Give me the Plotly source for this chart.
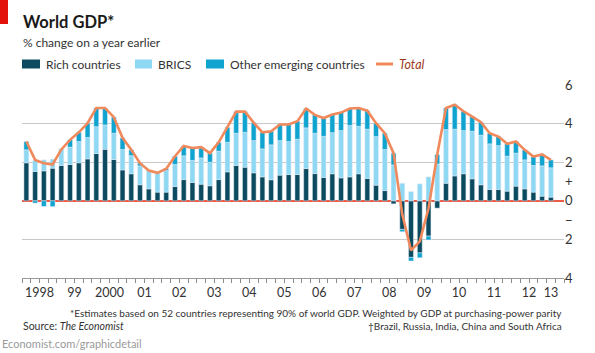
import plotly.graph_objects as go

# ---------------- data (quarterly, 1998Q1 - 2013Q1) ----------------
quarters = [f"{y}Q{q}" for y in range(1998, 2014) for q in range(1, 5)][:61]

rich = [1.97, 1.52, 1.55, 1.69, 1.83, 1.88, 1.97, 2.17, 2.45, 2.67, 2.14, 1.60,
        1.40, 0.83, 0.62, 0.45, 0.45, 0.74, 1.10, 0.95, 0.86, 0.78, 1.10, 1.50,
        1.83, 1.74, 1.45, 1.24, 1.09, 1.33, 1.36, 1.36, 1.67, 1.41, 1.21, 1.40,
        1.19, 1.24, 1.40, 1.16, 0.81, 0.53, -0.16, -1.48, -2.93, -2.70, -1.83, -0.38,
        0.91, 1.29, 1.40, 1.14, 0.83, 0.59, 0.59, 0.50, 0.76, 0.62, 0.45, 0.24, 0.19]
brics = [0.67, 0.57, 0.57, 0.47, 0.83, 0.90, 1.10, 1.11, 1.39, 1.26, 1.36, 1.06,
         0.94, 0.98, 0.91, 0.98, 1.12, 1.14, 1.23, 1.14, 1.36, 1.22, 1.47, 1.53,
         1.67, 1.81, 1.67, 1.45, 1.81, 1.79, 1.71, 1.83, 2.11, 2.09, 2.13, 2.13,
         2.45, 2.66, 2.46, 2.55, 2.52, 2.13, 1.86, 0.91, 0.48, 0.88, 1.24, 1.91,
         2.78, 2.42, 2.24, 2.46, 2.57, 2.36, 2.27, 1.81, 1.71, 1.50, 1.38, 1.57, 1.52]
other = [0.43, -0.12, -0.29, -0.30, 0.03, 0.38, 0.48, 0.74, 0.97, 0.85, 0.83, 0.60,
         0.30, 0.14, 0.04, 0.03, 0.09, 0.43, 0.51, 0.65, 0.56, 0.47, 0.46, 0.78,
         1.12, 1.07, 0.93, 0.86, 0.70, 0.83, 0.88, 0.93, 1.00, 0.95, 0.95, 0.94,
         0.93, 0.88, 0.95, 0.96, 0.69, 0.84, 0.61, -0.12, -0.19, -0.25, -0.20, 0.48,
         1.12, 1.27, 1.00, 0.76, 0.67, 0.55, 0.47, 0.64, 0.60, 0.52, 0.46, 0.59, 0.41]
total = [3.07, 2.12, 1.95, 1.88, 2.66, 3.16, 3.55, 4.02, 4.81, 4.81, 4.33, 3.26,
         2.64, 1.95, 1.57, 1.45, 1.66, 2.31, 2.84, 2.74, 2.78, 2.47, 3.03, 3.81,
         4.62, 4.62, 4.05, 3.55, 3.60, 3.95, 3.95, 4.12, 4.78, 4.45, 4.29, 4.47,
         4.57, 4.78, 4.81, 4.67, 4.02, 3.50, 2.47, -0.70, -2.57, -2.10, -0.40, 2.40,
         4.81, 4.98, 4.64, 4.36, 4.07, 3.50, 3.33, 2.95, 3.07, 2.64, 2.29, 2.40, 2.12]

year_labels = ["1998", "99", "2000", "01", "02", "03", "04", "05", "06", "07",
               "08", "09", "10", "11", "12", "13"]
y_ticks = [6, 4, 2, 0, -2, -4]
y_ticktext = ["6", "4", "2", "0", "2", "4"]
y_minor_vals = [1, -1]
y_minor_text = ["+", "\u2212"]

# ---------------- styling ----------------
C_RICH = "#0b4a5f"
C_BRICS = "#8ed8f3"
C_OTHER = "#0fa3cf"
C_TOTAL = "#f0895c"
C_ZERO = "#ea5b48"
C_GRID = "#c8c8c8"
FONT = "Lato, Roboto, sans-serif"

W, H = 595, 353
ML, MR, MT, MB = 22, 31, 85, 75
PW, PH = W - ML - MR, H - MT - MB


def px(x):
    return (x - ML) / PW


def py(y):
    return (H - MB - y) / PH


x = list(range(len(quarters)))

fig = go.Figure()
fig.add_bar(x=x, y=rich, marker_color=C_RICH, name="Rich countries", width=0.56,
            showlegend=False)
fig.add_bar(x=x, y=brics, marker_color=C_BRICS, name="BRICS", width=0.56,
            showlegend=False)
fig.add_bar(x=x, y=other, marker_color=C_OTHER, name="Other emerging countries",
            width=0.56, showlegend=False)
fig.add_scatter(x=x, y=total, mode="lines", line=dict(color=C_TOTAL, width=2.6),
                name="Total", yaxis="y2", showlegend=False)

year_pos = [4 * k + 1.5 for k in range(15)] + [60]
boundaries = [i - 0.5 for i in range(len(quarters) + 2)]

fig.update_layout(
    width=W, height=H,
    margin=dict(l=ML, r=MR, t=MT, b=MB),
    paper_bgcolor="white", plot_bgcolor="white",
    barmode="relative", bargap=0.4,
    font=dict(family=FONT, size=12, color="#333333"),
    xaxis=dict(
        range=[-0.5, 61.5], tickvals=year_pos, ticktext=year_labels,
        ticks="outside", ticklen=3, tickcolor="rgba(0,0,0,0)",
        showgrid=False, zeroline=False,
        showline=True, linecolor="#9a9a9a", linewidth=1,
        tickfont=dict(size=12.5, color="#333333"),
        minor=dict(tickvals=boundaries, ticks="outside", ticklen=4,
                   tickcolor="#8a8a8a", tickwidth=1, showgrid=False),
    ),
    yaxis=dict(
        range=[-4, 6], side="right", tickvals=y_ticks, ticktext=y_ticktext,
        showgrid=True, gridcolor=C_GRID, gridwidth=1.4,
        zeroline=True, zerolinecolor=C_ZERO, zerolinewidth=2,
        ticks="", tickfont=dict(size=13, color="#333333"),
    ),
    yaxis2=dict(
        range=[-4, 6], side="right", overlaying="y", tickvals=y_minor_vals,
        ticktext=y_minor_text, showgrid=False, zeroline=False, ticks="",
        tickfont=dict(size=13, color="#333333"),
    ),
)

shapes = []
annotations = []

# red corner tab
shapes.append(dict(type="rect", xref="paper", yref="paper", x0=px(0), x1=px(8),
                   y0=py(0), y1=py(24), fillcolor="#e3120b", line=dict(width=0),
                   layer="above"))

annotations.append(dict(text="<b>World GDP*</b>", x=px(21), y=py(22), xref="paper",
                        yref="paper", xanchor="left", yanchor="middle",
                        showarrow=False, font=dict(size=16.5, color="#1a1a1a")))
annotations.append(dict(text="% change on a year earlier", x=px(21), y=py(42),
                        xref="paper", yref="paper", xanchor="left",
                        yanchor="middle", showarrow=False,
                        font=dict(size=12, color="#333333")))

# legend
legend_items = [("Rich countries", C_RICH, 22, 40),
                ("BRICS", C_BRICS, 135, 152),
                ("Other emerging countries", C_OTHER, 206, 224)]
for label, col, x0, x1 in legend_items:
    shapes.append(dict(type="rect", xref="paper", yref="paper", x0=px(x0),
                       x1=px(x1), y0=py(59.5), y1=py(68.5), fillcolor=col,
                       line=dict(width=0)))
    annotations.append(dict(text=label, x=px(x1 + 4), y=py(64), xref="paper",
                            yref="paper", xanchor="left", yanchor="middle",
                            showarrow=False, font=dict(size=12, color="#333333")))
shapes.append(dict(type="line", xref="paper", yref="paper", x0=px(376), x1=px(393),
                   y0=py(64), y1=py(64), line=dict(color=C_TOTAL, width=3)))
annotations.append(dict(text="<i>Total</i>", x=px(397), y=py(64), xref="paper",
                        yref="paper", xanchor="left", yanchor="middle",
                        showarrow=False, font=dict(size=12.5, color="#9c3b23")))

# footnotes
annotations.append(dict(
    text="*Estimates based on 52 countries representing 90% of world GDP. "
         "Weighted by GDP at purchasing-power parity",
    x=px(564), y=py(313), xref="paper", yref="paper", xanchor="right",
    yanchor="middle", showarrow=False, font=dict(size=10, color="#333333")))
annotations.append(dict(
    text="\u2020Brazil, Russia, India, China and South Africa",
    x=px(564), y=py(326), xref="paper", yref="paper", xanchor="right",
    yanchor="middle", showarrow=False, font=dict(size=10, color="#333333")))
annotations.append(dict(
    text="Source: <i>The Economist</i>", x=px(21), y=py(326), xref="paper",
    yref="paper", xanchor="left", yanchor="middle", showarrow=False,
    font=dict(size=10.5, color="#333333")))
annotations.append(dict(
    text="Economist.com/graphicdetail", x=px(0), y=py(343), xref="paper",
    yref="paper", xanchor="left", yanchor="middle", showarrow=False,
    font=dict(size=11, color="#9a9a9a")))

fig.update_layout(shapes=shapes, annotations=annotations)
fig.write_html("out.html")
